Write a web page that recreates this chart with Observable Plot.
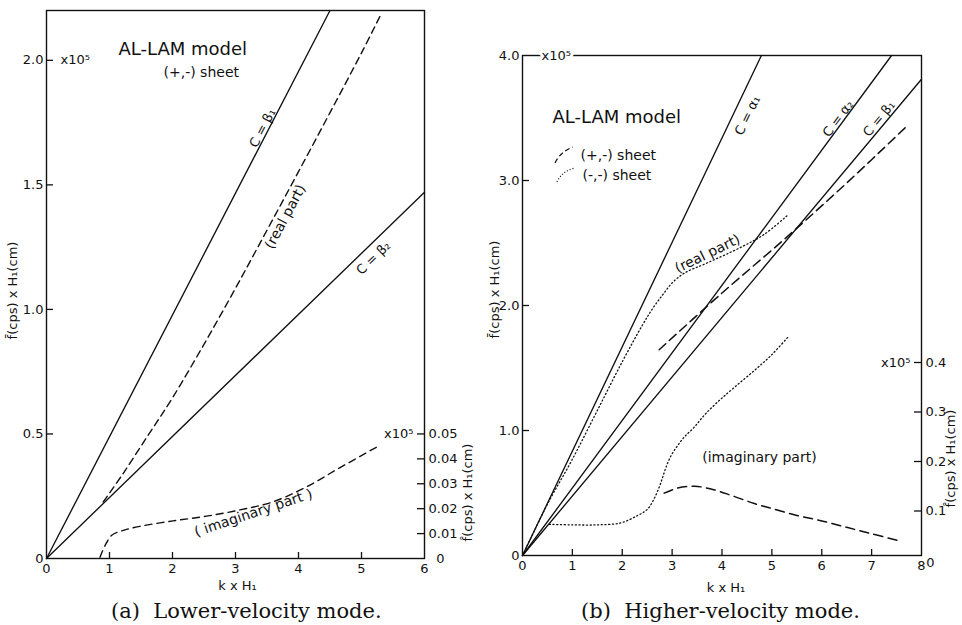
<!DOCTYPE html>
<html>
<head>
<meta charset="utf-8">
<script src="https://cdn.jsdelivr.net/npm/d3@7"></script>
<script src="https://cdn.jsdelivr.net/npm/@observablehq/plot@0.6"></script>
<style>
  html, body { margin: 0; padding: 0; background: #fff; }
  #figure { position: relative; width: 962px; height: 625px; overflow: hidden; background: #fff; }
  #figure > svg { position: absolute; top: 0; }
  .caption { position: absolute; top: 601px; font-family: "DejaVu Serif", serif; font-size: 21px;
             line-height: 21px; white-space: pre; color: #111; }
</style>
</head>
<body>
<div id="figure"></div>
<script>
// ---------- (a) Lower-velocity mode, (+,-) sheet ----------
const kTicksA = [0, 1, 2, 3, 4, 5, 6];
const fTicksA = [0, 0.5, 1.0, 1.5, 2.0];          // f̄ x H1, units of 10^5
const fHatTicksA = [0.01, 0.02, 0.03, 0.04, 0.05]; // f̂ x H1, units of 10^5 (right axis)

// constant phase-velocity lines: from the origin to where they leave the frame
const cNamesA = ["β₁", "β₂"];
const cEndKA = [4.50, 6.00];
const cEndFA = [2.20, 1.47];

// real part (left axis)
const realKA = [0.90, 1.20, 1.60, 2.00, 2.50, 3.00, 3.50, 4.00, 4.50, 5.00, 5.32];
const realFA = [0.227, 0.335, 0.490, 0.645, 0.860, 1.085, 1.318, 1.553, 1.790, 2.030, 2.190];

// imaginary part (right axis)
const imagKA = [0.849, 0.93, 1.035, 1.22, 1.48, 2.01, 2.54, 3.07, 3.60, 4.13, 4.66, 5.26];
const imagFA = [0.0005, 0.0052, 0.0093, 0.0113, 0.0129, 0.0151, 0.0170, 0.0195, 0.0228, 0.0288, 0.0365, 0.0450];

// ---------- (b) Higher-velocity mode ----------
const kTicksB = [0, 1, 2, 3, 4, 5, 6, 7, 8];
const fTicksB = [0, 1.0, 2.0, 3.0, 4.0];
const fHatTicksB = [0.1, 0.2, 0.3, 0.4];

const cNamesB = ["α₁", "α₂", "β₁"];
const cEndKB = [4.79, 7.40, 8.00];
const cEndFB = [4.00, 4.00, 3.81];

// (+,-) sheet
const realPMK = [2.74, 4.00, 5.25, 6.50, 7.72];
const realPMF = [1.646, 2.100, 2.530, 2.980, 3.440];
const imagPMK = [2.84, 3.10, 3.45, 3.80, 4.20, 4.65, 5.00, 5.50, 6.00, 6.50, 7.00, 7.55];
const imagPMF = [0.136, 0.146, 0.150, 0.144, 0.131, 0.115, 0.105, 0.091, 0.080, 0.067, 0.054, 0.040];

// (-,-) sheet
const realMMK = [0.00, 0.50, 1.00, 1.50, 2.00, 2.40, 2.60, 2.80, 3.00, 3.25, 3.70, 4.40, 4.85, 5.31];
const realMMF = [0.00, 0.41, 0.77, 1.16, 1.55, 1.84, 1.97, 2.08, 2.18, 2.26, 2.34, 2.47, 2.57, 2.72];
const imagMMK = [0.54, 1.00, 1.50, 1.97, 2.31, 2.51, 2.64, 2.74, 2.81, 2.88, 2.98, 3.11, 3.24, 3.44, 3.64, 3.91, 4.25, 4.65, 4.98, 5.32];
const imagMMF = [0.073, 0.072, 0.072, 0.076, 0.091, 0.104, 0.125, 0.148, 0.168, 0.189, 0.212, 0.232, 0.249, 0.269, 0.293, 0.320, 0.350, 0.384, 0.414, 0.451];

// ---------- helpers ----------
const ink = "#111";
const zip = (ks, vs) => ks.map((k, i) => ({k, v: vs[i]}));
const rays = (names, ks, fs) => names.flatMap((name, i) => [{name, k: 0, v: 0}, {name, k: ks[i], v: fs[i]}]);
const fmt1 = d => d === 0 ? "0" : d.toFixed(1);
const spaced = (svg, label, px) =>
  d3.select(svg).selectAll(`g[aria-label="${label}"] text`).attr("letter-spacing", px);
const panelStyle = {fontFamily: "'DejaVu Sans', sans-serif", fontSize: "13px", color: ink,
                    background: "transparent", overflow: "visible"};
// free-standing label placed relative to the frame
const note = (text, frameAnchor, dx, dy, extra = {}) =>
  Plot.text([text], {frameAnchor, dx, dy, text: d => d, textAnchor: "middle", lineAnchor: "middle", ...extra});

// ---------- panel (a) ----------
const WA = 480, HA = 600, mA = {l: 46, r: 56, t: 10, b: 42};
const iwA = WA - mA.l - mA.r, ihA = HA - mA.t - mA.b;
const hatA = t => 10 * t; // right-hand scale expressed in left-hand units

const notesA = [
  {text: "C = β₁", k: 3.43, v: 1.728, rotate: -62.6},
  {text: "C = β₂", k: 5.19, v: 1.206, rotate: -44.1}
];
const partsA = [
  {text: "(real part)", k: 3.79, v: 1.372, rotate: -61.7},
  {text: "( imaginary part )", k: 3.285, v: 0.183, rotate: -18.4}
];

const plotA = Plot.plot({
  width: WA, height: HA,
  marginLeft: mA.l, marginRight: mA.r, marginTop: mA.t, marginBottom: mA.b,
  x: {domain: [0, 6]},
  y: {domain: [0, 2.2]},
  style: panelStyle,
  marks: [
    Plot.frame({stroke: ink, strokeWidth: 1.4}),
    Plot.tickX(kTicksA.slice(1, -1), {x: d => d, insetTop: ihA - 6, stroke: ink, strokeWidth: 1.3}),
    Plot.tickY(fTicksA.slice(1), {y: d => d, insetRight: iwA - 7, stroke: ink, strokeWidth: 1.3}),
    Plot.tickY(fHatTicksA, {y: hatA, insetLeft: iwA - 7, stroke: ink, strokeWidth: 1.3}),
    Plot.axisX(kTicksA, {tickSize: 0, tickPadding: 5, label: null, tickFormat: d => String(d)}),
    Plot.axisY(fTicksA, {tickSize: 0, tickPadding: 3, label: null, tickFormat: fmt1}),
    Plot.text(fHatTicksA, {y: hatA, text: d => d.toFixed(2), frameAnchor: "right", dx: 4, textAnchor: "start"}),
    Plot.text([0], {y: hatA, text: d => String(d), frameAnchor: "right", dx: 16, textAnchor: "middle"}),
    Plot.text(["x10⁵"], {y: 2.0, frameAnchor: "left", dx: 14, textAnchor: "start", text: d => d}),
    Plot.text(["x10⁵"], {y: hatA(0.05), frameAnchor: "right", dx: -11, textAnchor: "end", text: d => d}),
    // axis titles
    note("k x H₁", "bottom", 2, 27),
    note("f̄(cps) x H₁(cm)", "left", -34, 6, {rotate: -90, ariaLabel: "ytitle"}),
    note("f̂(cps) x H₁(cm)", "right", 43, 208, {rotate: -90, ariaLabel: "ytitle"}),
    // curves
    Plot.line(rays(cNamesA, cEndKA, cEndFA), {x: "k", y: "v", z: "name", stroke: ink, strokeWidth: 1.35}),
    Plot.line(zip(realKA, realFA), {x: "k", y: "v", stroke: ink, strokeWidth: 1.4, strokeDasharray: "7,4.5", curve: "catmull-rom"}),
    Plot.line(zip(imagKA, imagFA), {x: "k", y: d => hatA(d.v), stroke: ink, strokeWidth: 1.4, strokeDasharray: "7,5", curve: "catmull-rom"}),
    // annotations
    Plot.text(notesA, {x: "k", y: "v", text: "text", rotate: "rotate", fontSize: 13, ariaLabel: "cnote"}),
    Plot.text(partsA, {x: "k", y: "v", text: "text", rotate: "rotate", fontSize: 14, ariaLabel: "part"}),
    note("AL-LAM model", "top-left", 72, 39, {textAnchor: "start", fontSize: 18, ariaLabel: "title"}),
    note("(+,-) sheet", "top-left", 117, 62, {textAnchor: "start", fontSize: 14, ariaLabel: "sheet"})
  ]
});
spaced(plotA, "title", "1.2px");
spaced(plotA, "sheet", "0.8px");
spaced(plotA, "part", "1.8px");
spaced(plotA, "cnote", "1px");
spaced(plotA, "ytitle", "0.6px");
plotA.style.left = "0px";

// ---------- panel (b) ----------
const WB = 482, HB = 600, mB = {l: 42, r: 41, t: 55, b: 45};
const iwB = WB - mB.l - mB.r, ihB = HB - mB.t - mB.b;
const hatB = t => 3.96 * t - 0.04; // right-hand scale expressed in left-hand units

const notesB = [
  {text: "C = α₁", k: 4.513, v: 3.52, rotate: -64.4},
  {text: "C = α₂", k: 6.33, v: 3.494, rotate: -53.4},
  {text: "C = β₁", k: 7.15, v: 3.494, rotate: -50.3}
];
const partsB = [
  {text: "(real part)", k: 3.71, v: 2.414, rotate: -26},
  {text: "(imaginary part)", k: 4.75, v: 0.784, rotate: 0}
];

const plotB = Plot.plot({
  width: WB, height: HB,
  marginLeft: mB.l, marginRight: mB.r, marginTop: mB.t, marginBottom: mB.b,
  x: {domain: [0, 8]},
  y: {domain: [0, 4]},
  style: panelStyle,
  marks: [
    Plot.frame({stroke: ink, strokeWidth: 1.4}),
    Plot.tickX(kTicksB.slice(1, -1), {x: d => d, insetTop: ihB - 6, stroke: ink, strokeWidth: 1.3}),
    Plot.tickY(fTicksB.slice(1, -1), {y: d => d, insetRight: iwB - 7, stroke: ink, strokeWidth: 1.3}),
    Plot.tickY(fHatTicksB, {y: hatB, insetLeft: iwB - 7, stroke: ink, strokeWidth: 1.3}),
    Plot.axisX(kTicksB, {tickSize: 0, tickPadding: 5, label: null, tickFormat: d => String(d)}),
    Plot.axisY(fTicksB, {tickSize: 0, tickPadding: 3, label: null, tickFormat: fmt1}),
    Plot.text(fHatTicksB, {y: hatB, text: d => d.toFixed(1), frameAnchor: "right", dx: 4, textAnchor: "start"}),
    Plot.text([0], {y: hatB, text: d => String(d), frameAnchor: "right", dx: 9, dy: 2, textAnchor: "middle"}),
    Plot.text(["x10⁵"], {y: 4.0, frameAnchor: "left", dx: 19, textAnchor: "start", text: d => d,
                         stroke: "white", strokeWidth: 6, fill: ink}),
    Plot.text(["x10⁵"], {y: hatB(0.4), frameAnchor: "right", dx: -11, textAnchor: "end", text: d => d}),
    note("k x H₁", "bottom", 4, 32),
    note("f̄(cps) x H₁(cm)", "left", -28, -16, {rotate: -90, ariaLabel: "ytitle"}),
    note("f̂(cps) x H₁(cm)", "right", 29, 153, {rotate: -90, ariaLabel: "ytitle"}),
    Plot.line(rays(cNamesB, cEndKB, cEndFB), {x: "k", y: "v", z: "name", stroke: ink, strokeWidth: 1.35}),
    Plot.line(zip(realPMK, realPMF), {x: "k", y: "v", stroke: ink, strokeWidth: 1.5, strokeDasharray: "9,5", curve: "catmull-rom"}),
    Plot.line(zip(imagPMK, imagPMF), {x: "k", y: d => hatB(d.v), stroke: ink, strokeWidth: 1.5, strokeDasharray: "9,5.5", curve: "catmull-rom"}),
    Plot.line(zip(realMMK, realMMF), {x: "k", y: "v", stroke: ink, strokeWidth: 1.3, strokeDasharray: "1.1,2.6", curve: "catmull-rom"}),
    Plot.line(zip(imagMMK, imagMMF), {x: "k", y: d => hatB(d.v), stroke: ink, strokeWidth: 1.3, strokeDasharray: "1.1,2.6", curve: "catmull-rom"}),
    Plot.text(notesB, {x: "k", y: "v", text: "text", rotate: "rotate", fontSize: 13, ariaLabel: "cnote"}),
    Plot.text(partsB, {x: "k", y: "v", text: "text", rotate: "rotate", fontSize: 14, ariaLabel: "part"}),
    note("AL-LAM model", "top-left", 30, 62, {textAnchor: "start", fontSize: 18, ariaLabel: "title"}),
    note("(+,-) sheet", "top-left", 58, 100, {textAnchor: "start", fontSize: 14, ariaLabel: "sheet"}),
    note("(-,-) sheet", "top-left", 60, 120, {textAnchor: "start", fontSize: 14, ariaLabel: "sheet"})
  ]
});
spaced(plotB, "title", "1.2px");
spaced(plotB, "sheet", "0.8px");
spaced(plotB, "part", "1.8px");
spaced(plotB, "cnote", "1px");
spaced(plotB, "ytitle", "0.6px");
plotB.style.left = "480px";

const fig = document.getElementById("figure");
fig.append(plotA, plotB);

// key swatches for the two sheets in panel (b)
const ns = "http://www.w3.org/2000/svg";
const key = document.createElementNS(ns, "svg");
key.setAttribute("width", "34"); key.setAttribute("height", "50");
key.style.left = "548px"; key.style.top = "140px";
key.innerHTML =
  `<path d="M7,23 Q12,12 25,7" fill="none" stroke="${ink}" stroke-width="1.2" stroke-dasharray="5,3"/>` +
  `<path d="M9,42 Q14,31 27,28" fill="none" stroke="${ink}" stroke-width="1.2" stroke-dasharray="1,2"/>`;
fig.append(key);

for (const [text, left] of [["(a)  Lower-velocity mode.", 111], ["(b)  Higher-velocity mode.", 581]]) {
  const c = document.createElement("div");
  c.className = "caption";
  c.style.left = left + "px";
  c.textContent = text;
  fig.append(c);
}
</script>
</body>
</html>
